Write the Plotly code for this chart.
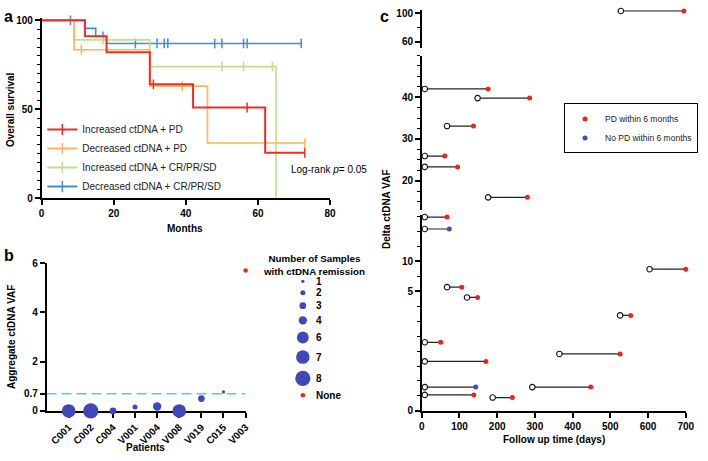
import plotly.graph_objects as go

W, H = 708, 461
FONT = "Liberation Sans, Arial, Helvetica, sans-serif"


def fx(p):
    return p / W


def fy(p):
    return 1 - p / H


# ---------------- Panel a: Kaplan-Meier data ----------------
km_groups = ["Increased ctDNA + PD", "Decreased ctDNA + PD",
             "Increased ctDNA + CR/PR/SD", "Decreased ctDNA + CR/PR/SD"]
km_colors = ["#e8302a", "#fdb45c", "#b9e28c", "#3d8fd1"]
km_event_times = [[0, 12, 18, 30, 42, 62],
                  [0, 9, 30, 46],
                  [0, 9, 30, 65],
                  [0, 12, 15, 18]]
km_survival = [[100, 91, 82, 64, 51, 25.5],
               [100, 83.5, 63, 31],
               [100, 89, 74, 0],
               [100, 95.5, 91, 87]]
km_end_time = [73, 73, 65, 72]
km_censor_times = [[31, 57, 73],
                   [11, 39, 73],
                   [17, 50, 56, 64],
                   [8, 17, 26, 32, 34, 35, 48, 50, 56, 57, 72]]

# ---------------- Panel b: aggregate VAF ----------------
patients = ["C001", "C002", "C004", "V001", "V004", "V008", "V019", "C015", "V003"]
aggregate_vaf = [0, 0, 0, 0.16, 0.18, 0, 0.5, 0.77, 5.7]
remission_samples = [7, 8, 3, 2, 4, 7, 3, 1, None]
legend_counts = [1, 2, 3, 4, 6, 7, 8]
vaf_threshold = 0.7

# ---------------- Panel c: delta VAF vs follow-up ----------------
baseline_day = [528, 8, 148, 67, 8, 8, 176, 8, 8, 604, 67, 120, 526, 8, 365, 8, 8, 293, 8, 188]
followup_day = [695, 176, 286, 137, 61, 95, 280, 67, 73, 700, 106, 148, 554, 50, 526, 170, 143, 448, 138, 240]
delta_vaf = [103, 42.0, 39.8, 33.1, 25.9, 23.3, 16.0, 12.97, 12.17, 9.48, 8.28, 7.59, 6.39,
             4.59, 3.81, 3.31, 1.59, 1.59, 1.07, 0.89]
pd_within_6m = [True, True, True, True, True, True, True, True, False, True, True, True, True,
                True, True, True, False, True, True, True]
# broken y-axis segments (axis units) and their tick labels
c_seg_ranges = [(0, 13.08), (13, 50), (51, 104)]
c_seg_tickvals = [[0, 8, 10], [20, 30, 40], [60, 100]]
c_seg_ticktext = [["0", "5", "10"], ["20", "30", "40"], ["60", "100"]]
c_seg_minor = [1, 2.5, 20]

RED = "#e8261f"
BLUE_DOT = "#3f4dbb"
BUBBLE = "#3f48b8"

fig = go.Figure()


def surv_at(times, surv, t):
    s = surv[0]
    for ti, si in zip(times, surv):
        if ti <= t:
            s = si
    return s


# ---- panel a traces
for i in reversed(range(len(km_groups))):
    c = km_colors[i]
    xs = km_event_times[i] + [km_end_time[i]]
    ys = km_survival[i] + [km_survival[i][-1]]
    fig.add_trace(go.Scatter(x=xs, y=ys, mode="lines", xaxis="x", yaxis="y",
                             line=dict(color=c, width=2 if i == 0 else 1.6, shape="hv"),
                             showlegend=False, hoverinfo="skip"))
    cy = [surv_at(km_event_times[i], km_survival[i], t) for t in km_censor_times[i]]
    fig.add_trace(go.Scatter(x=km_censor_times[i], y=cy, mode="markers", xaxis="x", yaxis="y",
                             marker=dict(symbol="line-ns", size=7, color=c, line=dict(width=1.5, color=c)),
                             showlegend=False, cliponaxis=False, hoverinfo="skip"))
for i in range(len(km_groups)):
    c = km_colors[i]
    fig.add_trace(go.Scatter(x=[None], y=[None], mode="lines+markers", xaxis="x", yaxis="y",
                             name=km_groups[i], legend="legend",
                             line=dict(color=c, width=2),
                             marker=dict(symbol="line-ns", size=8, color=c, line=dict(width=1.5, color=c))))

# ---- panel b traces
bx, by, bs = [], [], []
nx, ny = [], []
for k, (p, v, n) in enumerate(zip(patients, aggregate_vaf, remission_samples)):
    if n is None:
        nx.append(k + 1)
        ny.append(v)
    else:
        bx.append(k + 1)
        by.append(v)
        bs.append(1.6 + 1.7 * n)
fig.add_trace(go.Scatter(x=bx, y=by, mode="markers", xaxis="x2", yaxis="y2",
                         marker=dict(size=bs, color=BUBBLE, opacity=1, line=dict(width=0)),
                         showlegend=False, cliponaxis=False, hoverinfo="skip"))
fig.add_trace(go.Scatter(x=nx, y=ny, mode="markers", xaxis="x2", yaxis="y2",
                         marker=dict(size=4.5, color=RED, opacity=1, line=dict(width=0)),
                         showlegend=False, cliponaxis=False, hoverinfo="skip"))

# bubble-size legend drawn on a hidden pixel-unit overlay axis
leg_labels = [str(n) for n in legend_counts] + ["None"]
leg_sizes = [1.6 + 1.7 * n for n in legend_counts] + [4.5]
leg_colors = [BUBBLE] * len(legend_counts) + [RED]
leg_y = [282.7]
for k in range(1, len(leg_sizes)):
    leg_y.append(leg_y[-1] + (leg_sizes[k - 1] + leg_sizes[k]) / 2 + 7.5)
fig.add_trace(go.Scatter(x=[305] * len(leg_y), y=leg_y, mode="markers", xaxis="x4", yaxis="y6",
                         marker=dict(size=leg_sizes, color=leg_colors, opacity=1, line=dict(width=0)),
                         showlegend=False, cliponaxis=False, hoverinfo="skip"))

# ---- panel c traces
seg_axes = ["y3", "y4", "y5"]
shown = {True: False, False: False}
for s, (lo, hi) in enumerate(c_seg_ranges):
    if s == 0:
        idx = [k for k, v in enumerate(delta_vaf) if v <= hi]
    else:
        prev_hi = c_seg_ranges[s - 1][1]
        idx = [k for k, v in enumerate(delta_vaf) if prev_hi < v <= hi]
    if not idx:
        continue
    lx, ly = [], []
    for k in idx:
        lx += [baseline_day[k], followup_day[k], None]
        ly += [delta_vaf[k], delta_vaf[k], None]
    fig.add_trace(go.Scatter(x=lx, y=ly, mode="lines", xaxis="x3", yaxis=seg_axes[s],
                             line=dict(color="#222222", width=1.2), showlegend=False,
                             cliponaxis=False, hoverinfo="skip"))
    fig.add_trace(go.Scatter(x=[baseline_day[k] for k in idx], y=[delta_vaf[k] for k in idx],
                             mode="markers", xaxis="x3", yaxis=seg_axes[s],
                             marker=dict(size=5.5, color="white", opacity=1, line=dict(width=1.1, color="#111111")),
                             showlegend=False, cliponaxis=False, hoverinfo="skip"))
    for flag, col, nm, rank in [(True, RED, "PD within 6 months", 1),
                                (False, BLUE_DOT, "No PD within 6 months", 2)]:
        sel = [k for k in idx if pd_within_6m[k] == flag]
        if not sel:
            continue
        fig.add_trace(go.Scatter(x=[followup_day[k] for k in sel], y=[delta_vaf[k] for k in sel],
                                 mode="markers", xaxis="x3", yaxis=seg_axes[s],
                                 marker=dict(size=5, color=col, opacity=1, line=dict(width=0)),
                                 name=nm, legend="legend3", legendgroup=nm, legendrank=rank,
                                 showlegend=not shown[flag], cliponaxis=False, hoverinfo="skip"))
        shown[flag] = True

# ---------------- axes ----------------
tickfont = dict(family=FONT, size=10, color="black", weight="bold")
base = dict(showline=True, linecolor="black", linewidth=1.5, ticks="outside", tickcolor="black",
            tickwidth=1.5, ticklen=5, showgrid=False, zeroline=False, tickfont=tickfont, fixedrange=True)
minor_base = dict(ticks="outside", ticklen=3, tickwidth=1.2, tickcolor="black", showgrid=False)

fig.update_layout(
    xaxis=dict(base, domain=[fx(39.3), fx(332.7)], range=[0, 80], tickvals=[0, 20, 40, 60, 80], anchor="y"),
    yaxis=dict(base, domain=[fy(197.3), fy(12)], range=[0, 101.5], tickvals=[0, 50, 100], anchor="x",
               minor=dict(minor_base, dtick=5, tick0=0)),
    xaxis2=dict(base, domain=[fx(44.3), fx(246.8)], range=[0, 9], tickvals=list(range(1, len(patients) + 1)),
                ticktext=patients, tickangle=-45, anchor="y2", layer="below traces"),
    yaxis2=dict(base, domain=[fy(415.7), fy(264)], range=[0, 6], tickvals=[0, vaf_threshold, 2, 4, 6],
                ticktext=["0", str(vaf_threshold), "2", "4", "6"], anchor="x2"),
    xaxis3=dict(base, domain=[fx(426), fx(694.5)], range=[0, 700], dtick=100, tick0=0, anchor="y3"),
    yaxis3=dict(base, domain=[fy(415.7), fy(215)], range=list(c_seg_ranges[0]), tickvals=c_seg_tickvals[0],
                ticktext=c_seg_ticktext[0], anchor="x3", minor=dict(minor_base, dtick=c_seg_minor[0], tick0=0)),
    yaxis4=dict(base, domain=[fy(209.3), fy(50.9)], range=list(c_seg_ranges[1]), tickvals=c_seg_tickvals[1],
                ticktext=c_seg_ticktext[1], anchor="x3", minor=dict(minor_base, dtick=c_seg_minor[1], tick0=0)),
    yaxis5=dict(base, domain=[fy(43.3), fy(4.36)], range=list(c_seg_ranges[2]), tickvals=c_seg_tickvals[2],
                ticktext=c_seg_ticktext[2], anchor="x3", minor=dict(minor_base, dtick=c_seg_minor[2], tick0=0)),
    xaxis4=dict(domain=[0, 1], range=[0, W], visible=False, anchor="y6", fixedrange=True),
    yaxis6=dict(domain=[0, 1], range=[H, 0], visible=False, anchor="x4", fixedrange=True),
)

fig.add_shape(type="line", xref="x2", yref="y2", x0=0, x1=len(patients), y0=vaf_threshold, y1=vaf_threshold,
              line=dict(color="#5cc6ef", width=1.5, dash="10px,5px"), layer="below")

# ---------------- annotations ----------------
ann = []


def text(t, x, y, size=10, bold=False, angle=0, xanchor="center", yanchor="middle", align="center",
         xref="paper", yref="paper"):
    ann.append(dict(text=t, x=x, y=y, xref=xref, yref=yref, showarrow=False, textangle=angle,
                    xanchor=xanchor, yanchor=yanchor, align=align,
                    font=dict(family=FONT, size=size, color="black", weight="bold" if bold else "normal")))


text("a", fx(6), fy(0), size=16, bold=True, yanchor="top")
text("b", fx(6), fy(256), size=16, bold=True)
text("c", fx(388), fy(0), size=16, bold=True, yanchor="top")
text("Overall survival", fx(7), fy(106), bold=True, angle=-90)
text("Months", fx(185), fy(228), bold=True)
text("Log-rank <i>p</i>= 0.05", fx(291), fy(168.3), xanchor="left", size=10)
text("Aggregate ctDNA VAF", fx(8), fy(340), bold=True, angle=-90)
text("Patients", fx(145), fy(453.5), bold=True)
text("Delta ctDNA VAF", fx(390), fy(209), bold=True, angle=-90)
text("Follow up time (days)", fx(561), fy(445.5), bold=True)
text("Number of Samples<br>with ctDNA remission", fx(316), fy(265.5), bold=True, size=9.8)
for lab, yy in zip(leg_labels, leg_y):
    text(lab, 316, yy, bold=True, xanchor="left", xref="x4", yref="y6")

fig.update_layout(
    annotations=ann,
    width=W, height=H, margin=dict(l=0, r=0, t=0, b=0),
    paper_bgcolor="white", plot_bgcolor="rgba(0,0,0,0)",
    font=dict(family=FONT, size=10, color="black"),
    showlegend=True,
    legend=dict(x=fx(40), y=fy(112), xanchor="left", yanchor="top", bgcolor="rgba(0,0,0,0)",
                font=dict(family=FONT, size=10, color="#222222"), itemsizing="trace", tracegroupgap=0),
    legend3=dict(x=fx(707), y=fy(100), xanchor="right", yanchor="top", bgcolor="white",
                 bordercolor="black", borderwidth=1, font=dict(family=FONT, size=8.5, color="#222222"),
                 itemsizing="trace", tracegroupgap=0),
)

fig.write_html("out.html", config={"displayModeBar": False, "staticPlot": False},
               post_script="document.body.style.margin='0';document.body.style.overflow='hidden';")
